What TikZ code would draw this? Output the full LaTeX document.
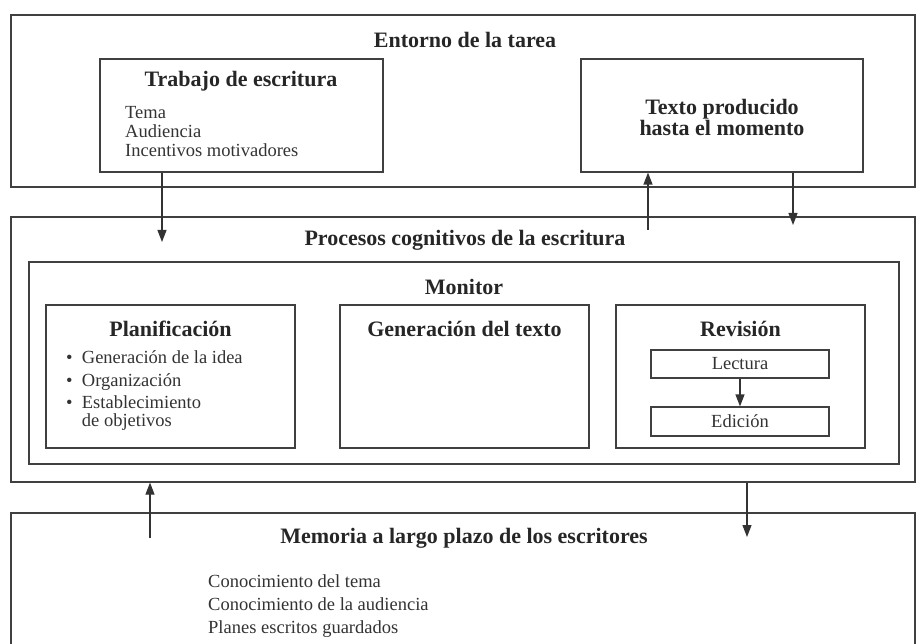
\documentclass[tikz,border=0pt]{standalone}
\usepackage{fontspec}
\setmainfont{Liberation Serif}
\usetikzlibrary{arrows.meta}
\begin{document}
\begin{tikzpicture}[x=1pt, y=-1pt,
    caja/.style={draw=black!75, line width=1.2pt, inner sep=0pt},
    titulo/.style={font=\fontsize{22}{21}\selectfont\bfseries, text=black!85, align=center},
    lista/.style={font=\fontsize{18.5}{19}\selectfont, text=black!80, align=left, anchor=west, inner sep=0pt},
    flecha/.style={draw=black!80, line width=1.2pt, -{Triangle[length=12pt,width=9pt]}}]
  \clip (0,0) rectangle (916,644);
  \node[caja, minimum width=904pt, minimum height=172pt] (entorno) at (463,101) {};
  \node[caja, minimum width=283pt, minimum height=113pt] (trabajo) at (241.5,115.5) {};
  \node[caja, minimum width=282pt, minimum height=113pt] (texto) at (722,115.5) {};
  \node[caja, minimum width=904pt, minimum height=265pt] (procesos) at (463,349.5) {};
  \node[caja, minimum width=870pt, minimum height=202pt] (monitor) at (464,363) {};
  \node[caja, minimum width=249pt, minimum height=143pt] (planif) at (170.5,376.5) {};
  \node[caja, minimum width=249pt, minimum height=143pt] (generac) at (464.5,376.5) {};
  \node[caja, minimum width=249pt, minimum height=143pt] (revision) at (740.5,376.5) {};
  \node[caja, minimum width=178pt, minimum height=28pt] (lectura) at (740,364) {};
  \node[caja, minimum width=178pt, minimum height=29pt] (edicion) at (740,421.5) {};
  \node[caja, minimum width=904pt, minimum height=147pt] (memoria) at (463,586.5) {};

  \node[titulo] (entornotit) at (465,40) {Entorno de la tarea};
  \node[titulo] (trabajotit) at (241,81) {Trabajo de escritura};
  \node[lista] (trabajoitems) at (125,132) {Tema\\Audiencia\\Incentivos motivadores};
  \node[titulo] (textotit) at (722,117.5) {Texto producido\\hasta el momento};
  \node[titulo] (procesostit) at (465,240) {Procesos cognitivos de la escritura};
  \node[titulo] (monitortit) at (464,287) {Monitor};
  \node[titulo] (planiftit) at (170.5,329) {Planificación};
  \node[lista, font=\fontsize{18.5}{18}\selectfont] (planifitems) at (66,391)
    {\textbullet\ \ Generación de la idea\\[4.5pt]
     \textbullet\ \ Organización\\[4.5pt]
     \textbullet\ \ Establecimiento\\
     \phantom{\textbullet\ \ }de objetivos};
  \node[titulo] (generactit) at (464.5,329) {Generación del texto};
  \node[titulo] (revisiontit) at (740.5,329) {Revisión};
  \node[lista, anchor=center] (lecturatxt) at (lectura) {Lectura};
  \node[lista, anchor=center] (ediciontxt) at (edicion) {Edición};
  \node[titulo] (memoriatit) at (464,538) {Memoria a largo plazo de los escritores};
  \node[lista, font=\fontsize{18.5}{23}\selectfont] (memoriaitems) at (208,606)
    {Conocimiento del tema\\Conocimiento de la audiencia\\Planes escritos guardados};

  \coordinate (p1) at (162,242);
  \coordinate (p2) at (648,230);
  \coordinate (p3) at (793,225);
  \coordinate (p4) at (150,538);
  \coordinate (p5) at (747,537);
  \draw[flecha] (trabajo.south -| p1) -- (p1);
  \draw[flecha] (p2) -- (p2 |- texto.south);
  \draw[flecha] (texto.south -| p3) -- (p3);
  \draw[flecha] (p4) -- (p4 |- procesos.south);
  \draw[flecha] (procesos.south -| p5) -- (p5);
  \draw[flecha] (lectura) -- (edicion);
\end{tikzpicture}
\end{document}
